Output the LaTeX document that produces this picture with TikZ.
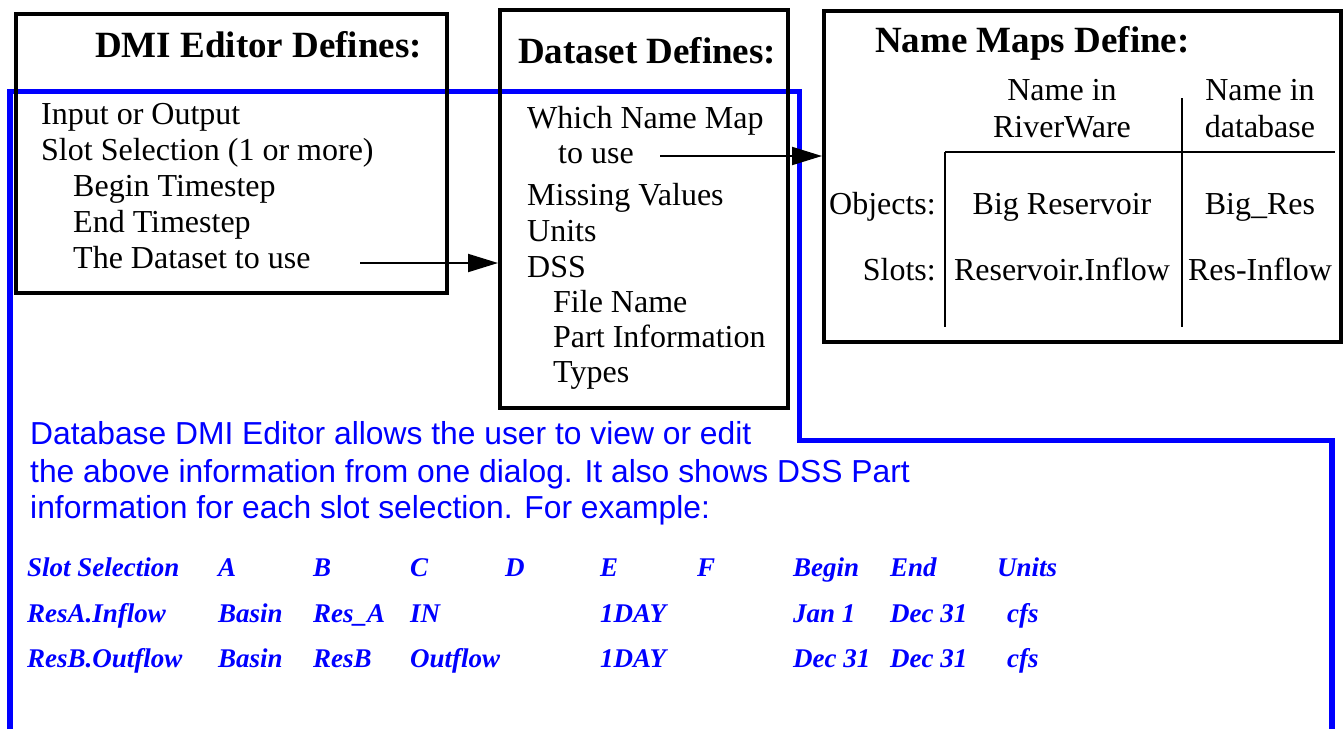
\documentclass[tikz,border=0pt]{standalone}
\usepackage{fontspec}
\setmainfont{Liberation Serif}
\newfontfamily\helv{Liberation Sans}
\usetikzlibrary{arrows.meta}
\definecolor{pblue}{RGB}{0,0,255}
\begin{document}
\begin{tikzpicture}[x=1pt,y=-1pt,
  box/.style={draw=black,line width=4pt,rectangle,inner sep=0pt},
  title/.style={anchor=base west,inner sep=0pt,font=\fontsize{37}{41}\selectfont\bfseries},
  txt/.style={anchor=base west,inner sep=0pt,font=\fontsize{32}{36}\selectfont},
  ctxt/.style={anchor=base,inner sep=0pt,font=\fontsize{32}{36}\selectfont},
  rtxt/.style={anchor=base east,inner sep=0pt,font=\fontsize{32}{36}\selectfont},
  btxt/.style={anchor=base west,inner sep=0pt,text=pblue,font=\helv\fontsize{31.8}{37}\selectfont},
  tab/.style={anchor=base west,inner sep=0pt,text=pblue,font=\fontsize{27}{30}\selectfont\bfseries\itshape},
  conn/.style={line width=2pt,-{Triangle[length=30pt,width=18pt]}},
  bluepath/.style={draw=pblue,line width=5.5pt,line join=miter},
  rule/.style={line width=2pt}]
\useasboundingbox (0,0) rectangle (1344,729);
% blue bracket
\coordinate (b1) at (10,729);
\coordinate (b2) at (10,91.5);
\coordinate (b3) at (799.5,91.5);
\coordinate (b4) at (799.5,440.5);
\coordinate (b5) at (1332,440.5);
\coordinate (b6) at (1332,729);
\draw[bluepath] (b1) -- (b2) -- (b3) -- (b4) -- (b5) -- (b6);
% boxes
\node[box,minimum width=431pt,minimum height=279pt] (dmi) at (231.5,153.5) {};
\node[box,minimum width=288pt,minimum height=398pt] (ds) at (644,209) {};
\node[box,minimum width=517pt,minimum height=331pt] (nm) at (1082.5,176.5) {};
% DMI box text
\node[title] (t1) at (95,57) {DMI Editor Defines:};
\node[txt] (d1) at (41,124) {Input or Output};
\node[txt] (d2) at (41,160) {Slot Selection (1 or more)};
\node[txt] (d3) at (73,196) {Begin Timestep};
\node[txt] (d4) at (73,232) {End Timestep};
\node[txt] (d5) at (73,268) {The Dataset to use};
% Dataset box text
\node[title] (t2) at (518,63) {Dataset Defines:};
\node[txt] (s1) at (527,128) {Which Name Map};
\node[txt] (s2) at (558,163) {to use};
\node[txt] (s3) at (527,205) {Missing Values};
\node[txt] (s4) at (527,241) {Units};
\node[txt] (s5) at (527,277) {DSS};
\node[txt] (s6) at (553,312) {File Name};
\node[txt] (s7) at (553,347) {Part Information};
\node[txt] (s8) at (553,382) {Types};
% Name maps box
\node[title] (t3) at (875,52) {Name Maps Define:};
\node[ctxt] (h1) at (1062,100) {Name in};
\node[ctxt] (h2) at (1062,137) {RiverWare};
\node[ctxt] (h3) at (1260,100) {Name in};
\node[ctxt] (h4) at (1260,137) {database};
\node[rtxt] (o1) at (936,214) {Objects:};
\node[ctxt] (o2) at (1062,214) {Big Reservoir};
\node[ctxt] (o3) at (1260,214) {Big\_Res};
\node[rtxt] (r1) at (936,280) {Slots:};
\node[ctxt] (r2) at (1062,280) {Reservoir.Inflow};
\node[ctxt] (r3) at (1260,280) {Res-Inflow};
\draw[rule] (945,152) -- (1335,152);
\draw[rule] (945,152) -- (945,327);
\draw[rule] (1182,98) -- (1182,327);
% connectors
\coordinate (a1) at (360,263);
\draw[conn] (a1) -- (ds.west |- a1);
\coordinate (a2) at (660,156);
\draw[conn] (a2) -- (nm.west |- a2);
% blue description
\node[btxt] (p1) at (30,444) {Database DMI Editor allows the user to view or edit};
\node[btxt] (p2) at (30,482) {the above information from one dialog. It also shows DSS Part};
\node[btxt] (p3) at (30,518) {information for each slot selection. For example:};
% table
\node[tab] (c11) at (27,576) {Slot Selection};
\node[tab] (c12) at (218,576) {A};
\node[tab] (c13) at (313,576) {B};
\node[tab] (c14) at (410,576) {C};
\node[tab] (c15) at (505,576) {D};
\node[tab] (c16) at (600,576) {E};
\node[tab] (c17) at (697,576) {F};
\node[tab] (c18) at (793,576) {Begin};
\node[tab] (c19) at (890,576) {End};
\node[tab] (c1a) at (997,576) {Units};
\node[tab] (c21) at (27,622) {ResA.Inflow};
\node[tab] (c22) at (218,622) {Basin};
\node[tab] (c23) at (313,622) {Res\_A};
\node[tab] (c24) at (410,622) {IN};
\node[tab] (c26) at (600,622) {1DAY};
\node[tab] (c28) at (793,622) {Jan 1};
\node[tab] (c29) at (890,622) {Dec 31};
\node[tab] (c2a) at (1007,622) {cfs};
\node[tab] (c31) at (27,667) {ResB.Outflow};
\node[tab] (c32) at (218,667) {Basin};
\node[tab] (c33) at (313,667) {ResB};
\node[tab] (c34) at (410,667) {Outflow};
\node[tab] (c36) at (600,667) {1DAY};
\node[tab] (c38) at (793,667) {Dec 31};
\node[tab] (c39) at (890,667) {Dec 31};
\node[tab] (c3a) at (1007,667) {cfs};
\end{tikzpicture}
\end{document}
